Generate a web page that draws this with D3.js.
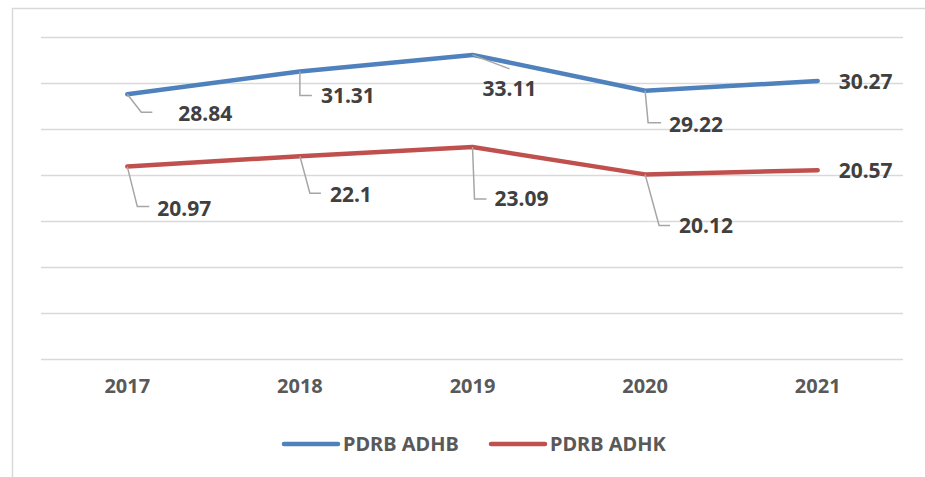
<!DOCTYPE html>
<html>
<head>
<meta charset="utf-8">
<script src="https://cdn.jsdelivr.net/npm/d3@7"></script>
<style>
  body { margin: 0; background: #fff; }
  svg text { font-family: "Noto Sans", "Open Sans", sans-serif; font-weight: bold; }
</style>
</head>
<body>
<svg id="chart" width="925" height="477"></svg>
<script>
var years = ["2017", "2018", "2019", "2020", "2021"]
var adhb = [28.84, 31.31, 33.11, 29.22, 30.27]
var adhk = [20.97, 22.1, 23.09, 20.12, 20.57]
var yTicks = [0, 5, 10, 15, 20, 25, 30, 35]
var seriesNames = ["PDRB ADHB", "PDRB ADHK"]

var svg = d3.select("#chart")

// frame of the chart area (runs off the bottom/right of the picture)
svg.append("path")
    .attr("d", "M12.5,480 V8.5 H930")
    .attr("fill", "none")
    .attr("stroke", "#d9d9d9")
    .attr("stroke-width", 1.5)

var x = d3.scaleBand().domain(years).range([41, 904])
var y = d3.scaleLinear().domain([0, 35]).range([359.5, 37.5])

svg.append("g").selectAll("line")
    .data(yTicks)
    .enter().append("line")
    .attr("x1", 41).attr("x2", 903)
    .attr("y1", d => y(d)).attr("y2", d => y(d))
    .attr("stroke", "#d9d9d9")
    .attr("stroke-width", 1.5)

var xAxis = svg.append("g")
    .attr("transform", "translate(0,359)")
    .call(d3.axisBottom(x).tickSize(0).tickPadding(20))
xAxis.select(".domain").remove()
xAxis.selectAll("text")
    .attr("font-size", "20px")
    .attr("font-family", "'Noto Sans', sans-serif")
    .attr("font-weight", "bold")
    .attr("fill", "#595959")

var cx = d => x(d) + x.bandwidth() / 2

var series = [
    {name: seriesNames[0], values: adhb, color: "#4f81bd"},
    {name: seriesNames[1], values: adhk, color: "#c0504d"}
]

var line = d3.line()
    .x((d, i) => cx(years[i]))
    .y(d => y(d))

svg.append("g").selectAll("path")
    .data(series)
    .enter().append("path")
    .attr("d", d => line(d.values))
    .attr("fill", "none")
    .attr("stroke", d => d.color)
    .attr("stroke-width", 4.5)
    .attr("stroke-linecap", "round")
    .attr("stroke-linejoin", "round")

// label offsets relative to the point: leader elbow, leader end, text start, baseline
var labelPos = [
    [[14, 18, 25, 18, 51, 27], [0, 24, 12, 24, 21, 32], [37, 14, 37, 14, 10, 41], [3, 32, 16, 32, 24, 41], null],
    [[10, 40, 22, 40, 30, 49], [10, 37, 21, 37, 30, 46], [2, 52, 14, 52, 22, 59], [14, 51, 25, 51, 34, 59], null]
]

var gl = svg.append("g")
series.forEach(function(s, si) {
    s.values.forEach(function(v, i) {
        var px = cx(years[i]), py = y(v), p = labelPos[si][i]
        if (p) {
            gl.append("polyline")
                .attr("points", [[px, py], [px + p[0], py + p[1]], [px + p[2], py + p[3]]].join(" "))
                .attr("fill", "none")
                .attr("stroke", "#a6a6a6")
                .attr("stroke-width", 1.5)
            gl.append("text")
                .attr("x", px + p[4]).attr("y", py + p[5])
                .attr("font-size", "21px")
                .attr("fill", "#404040")
                .text(v)
        } else {
            gl.append("text")
                .attr("x", px + 21).attr("y", py + 8)
                .attr("font-size", "21px")
                .attr("fill", "#404040")
                .text(v)
        }
    })
})

// legend
var legX = [284, 491]
var leg = svg.append("g").selectAll("g")
    .data(series)
    .enter().append("g")
    .attr("transform", (d, i) => "translate(" + legX[i] + ",444)")
leg.append("line")
    .attr("x1", 0).attr("x2", 54)
    .attr("stroke", d => d.color)
    .attr("stroke-width", 4.5)
    .attr("stroke-linecap", "round")
leg.append("text")
    .attr("x", 59).attr("y", 7)
    .attr("font-size", "20px")
    .attr("fill", "#595959")
    .text(d => d.name)
</script>
</body>
</html>
